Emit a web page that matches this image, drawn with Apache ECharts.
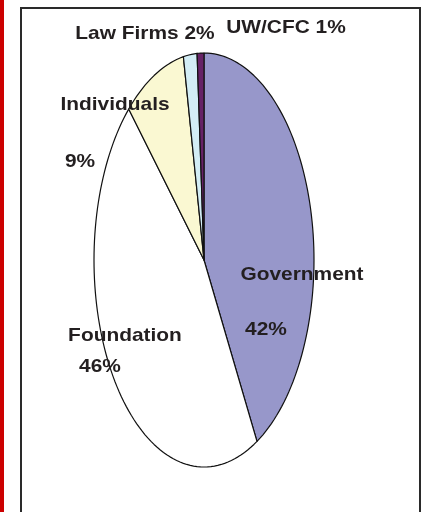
<!DOCTYPE html>
<html>
<head>
<meta charset="utf-8">
<script src="https://cdn.jsdelivr.net/npm/echarts@6/dist/echarts.min.js"></script>
<style>
html,body{margin:0;padding:0;background:#fff;}
#c{width:425px;height:512px;}
</style>
</head>
<body>
<div id="c"></div>
<script>
// Data (clockwise from 12 o'clock)
var categories = ['Government', 'Foundation', 'Individuals', 'Law Firms', 'UW/CFC'];
var values = [42, 46, 9, 2, 1];
var colors = ['#9797CA', '#FFFFFF', '#FAF8D2', '#D3EDF5', '#662266'];

var total = values.reduce(function (a, b) { return a + b; }, 0);
var sliceData = [];
var acc = 0;
for (var i = 0; i < values.length; i++) {
  sliceData.push([acc / total, (acc + values[i]) / total, i]);
  acc += values[i];
}
function pct(i) { return values[i] + '%'; }

var chart = echarts.init(document.getElementById('c'), null, {renderer: 'canvas'});
var font = 'bold 19px "Liberation Sans", Arial, sans-serif';
var txtColor = '#231F20';
function label(x, y, text) {
  return {type: 'text', x: x, y: y, scaleX: 1.1, style: {text: text, font: font, fill: txtColor, align: 'center', verticalAlign: 'middle'}, z: 10};
}

chart.setOption({
  backgroundColor: '#ffffff',
  animation: false,
  grid: {left: 94, top: 53, width: 220, height: 414},
  xAxis: {type: 'value', min: -1, max: 1, show: false},
  yAxis: {type: 'value', min: -1, max: 1, show: false},
  series: [{
    type: 'custom',
    data: sliceData,
    renderItem: function (params, api) {
      var s = api.value(0), e = api.value(1), idx = api.value(2);
      var pts = [api.coord([0, 0])];
      var steps = Math.max(4, Math.ceil((e - s) * 200));
      for (var k = 0; k <= steps; k++) {
        var th = 2 * Math.PI * (s + (e - s) * k / steps);
        pts.push(api.coord([Math.sin(th), Math.cos(th)]));
      }
      return {
        type: 'polygon',
        shape: {points: pts},
        style: {fill: colors[idx], stroke: '#111', lineWidth: 1.2, lineJoin: 'round'}
      };
    }
  }],
  graphic: [
    {type: 'rect', shape: {x: 0, y: 0, width: 4, height: 512}, style: {fill: '#CC0000'}},
    {type: 'rect', shape: {x: 21, y: 8, width: 399, height: 520}, style: {fill: 'none', stroke: '#2a2a2a', lineWidth: 2}},
    label(302, 275, categories[0]),
    label(266, 330, pct(0)),
    label(125, 336, categories[1]),
    label(100, 367, pct(1)),
    label(115, 105, categories[2]),
    label(80, 162, pct(2)),
    label(145, 34, categories[3] + ' ' + pct(3)),
    label(286, 28, categories[4] + ' ' + pct(4))
  ]
});
</script>
</body>
</html>
